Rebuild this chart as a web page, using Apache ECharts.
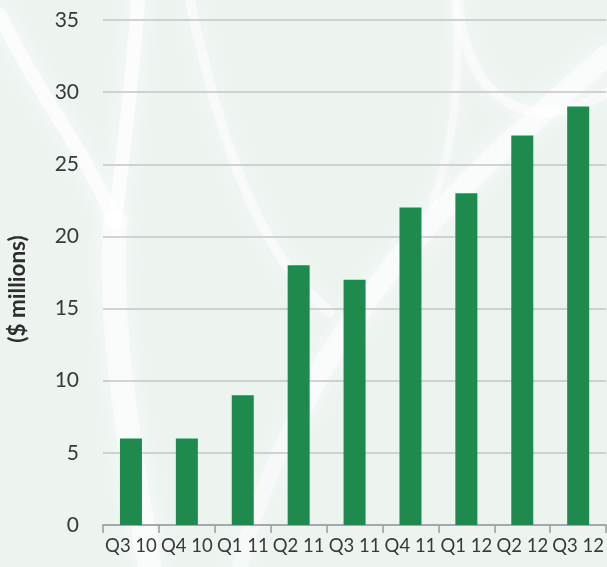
<!DOCTYPE html>
<html>
<head>
<meta charset="utf-8">
<style>
  html, body { margin: 0; padding: 0; background: #eef5f1; }
  #chart { width: 607px; height: 567px; }
</style>
<script src="https://cdn.jsdelivr.net/npm/echarts@6/dist/echarts.min.js"></script>
</head>
<body>
<div id="chart"></div>
<script>
// Quarterly revenue, $ millions
const quarters = ['Q3 10', 'Q4 10', 'Q1 11', 'Q2 11', 'Q3 11', 'Q4 11', 'Q1 12', 'Q2 12', 'Q3 12'];
const revenue = [6, 6, 9, 18, 17, 22, 23, 27, 29];
const yTicks = { min: 0, max: 35, step: 5 };
const yTitle = '($ millions)';

const chart = echarts.init(document.getElementById('chart'), null, { renderer: 'canvas' });

// soft white organic bands behind the plot (cubic curves: start, control 1, control 2, end)
const band = (p, w, a) => ({
  type: 'bezierCurve',
  silent: true,
  z: -10,
  shape: { x1: p[0], y1: p[1], cpx1: p[2], cpy1: p[3], cpx2: p[4], cpy2: p[5], x2: p[6], y2: p[7] },
  style: {
    fill: null,
    stroke: 'rgba(255,255,255,' + (a || 0.6) + ')',
    lineWidth: w,
    lineCap: 'round',
    shadowBlur: 22,
    shadowColor: 'rgba(255,255,255,0.95)'
  }
});

chart.setOption({
  backgroundColor: '#edf4f0',
  animation: false,
  grid: { left: 103, right: 0, top: 20, bottom: 42, containLabel: false },
  xAxis: {
    type: 'category',
    data: quarters,
    axisLine: { lineStyle: { color: '#9a9a9a', width: 1.5 } },
    axisTick: { show: true, length: 8, alignWithLabel: false, lineStyle: { color: '#9a9a9a', width: 1.5 } },
    axisLabel: { interval: 0, margin: 12, color: '#383838', fontFamily: 'Lato', fontSize: 18.5 }
  },
  yAxis: {
    type: 'value',
    min: yTicks.min,
    max: yTicks.max,
    interval: yTicks.step,
    axisLine: { show: false },
    axisTick: { show: false },
    axisLabel: { margin: 24, color: '#383838', fontFamily: 'Lato', fontSize: 21 },
    splitLine: { lineStyle: { color: '#c4c4c4', width: 1.5 } }
  },
  series: [{
    type: 'bar',
    data: revenue,
    barWidth: 22,
    itemStyle: { color: '#1e8a4e' }
  }],
  graphic: [
    band([0, 15, 35, 90, 85, 150, 115, 222], 14, 0.65),
    band([138, 0, 132, 90, 122, 160, 115, 222], 14, 0.65),
    band([115, 222, 108, 320, 128, 440, 150, 567], 24, 0.55),
    band([190, 0, 215, 120, 255, 255, 330, 312], 10, 0.5),
    band([607, 55, 500, 150, 380, 250, 300, 410], 22, 0.55),
    band([300, 410, 270, 470, 250, 520, 240, 567], 16, 0.4),
    band([458, 0, 465, 100, 530, 140, 607, 92], 10, 0.5),
    band([455, 0, 462, 80, 452, 150, 432, 205], 8, 0.45),
    {
      type: 'text',
      silent: true,
      rotation: Math.PI / 2,
      x: 18,
      y: 289,
      style: {
        text: yTitle,
        fill: '#2e2e2e',
        font: 'bold 22.5px Lato',
        align: 'center',
        verticalAlign: 'middle'
      }
    }
  ]
});
</script>
</body>
</html>
